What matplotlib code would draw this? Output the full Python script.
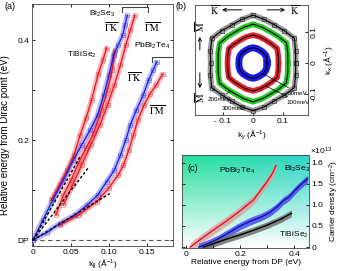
import numpy as np
import matplotlib
matplotlib.use("Agg")
import matplotlib.pyplot as plt

plt.rcParams['font.family'] = ['Liberation Sans', 'DejaVu Sans']
plt.rcParams['mathtext.fontset'] = 'custom'
plt.rcParams['mathtext.rm'] = 'Liberation Sans'
plt.rcParams['mathtext.it'] = 'Liberation Sans:italic'
plt.rcParams['font.size'] = 6

# ---- panel (a): dispersions, k (1/A) vs E (eV)
tl_gk_k = [0.024, 0.035, 0.045, 0.054, 0.062, 0.070, 0.077, 0.086, 0.092, 0.097]
tl_gk_e = [0.08, 0.11, 0.14, 0.17, 0.21, 0.245, 0.28, 0.333, 0.36, 0.385]
tl_gm_k = [0.030, 0.040, 0.050, 0.060, 0.070, 0.080, 0.090, 0.098, 0.104, 0.108]
tl_gm_e = [0.05, 0.09, 0.12, 0.155, 0.185, 0.215, 0.26, 0.30, 0.34, 0.38]
bs_gk_k = [0.0, 0.013, 0.026, 0.040, 0.053, 0.064, 0.075, 0.085, 0.093, 0.100, 0.106, 0.112, 0.118, 0.121, 0.124]
bs_gk_e = [0.0, 0.04, 0.08, 0.12, 0.16, 0.19, 0.22, 0.25, 0.29, 0.33, 0.37, 0.39, 0.41, 0.43, 0.45]
bs_gm_k = [0.040, 0.052, 0.064, 0.076, 0.088, 0.098, 0.107, 0.115, 0.122, 0.128, 0.134]
bs_gm_e = [0.07, 0.11, 0.15, 0.19, 0.23, 0.27, 0.31, 0.35, 0.39, 0.42, 0.45]
pb_gk_k = [0.0, 0.018, 0.035, 0.055, 0.071, 0.085, 0.097, 0.107, 0.115, 0.122, 0.128, 0.136, 0.145, 0.152, 0.158, 0.163]
pb_gk_e = [0.0, 0.015, 0.033, 0.05, 0.07, 0.09, 0.117, 0.14, 0.17, 0.20, 0.23, 0.26, 0.29, 0.32, 0.34, 0.357]
pb_gm_k = [0.035, 0.060, 0.084, 0.100, 0.112, 0.119, 0.126, 0.132, 0.138, 0.146, 0.154, 0.162, 0.171]
pb_gm_e = [0.03, 0.05, 0.077, 0.105, 0.13, 0.15, 0.18, 0.21, 0.24, 0.27, 0.293, 0.31, 0.333]
# linear fits near the Dirac point (end points)
fit_k = [0.062, 0.073, 0.101]
fit_e = [0.167, 0.145, 0.093]

# ---- panel (b): constant energy contours, radius (1/A) every 15 deg
angles = np.arange(0, 360, 15)
r_300 = [0.142, 0.147, 0.159, 0.147, 0.142, 0.145, 0.154, 0.145, 0.141, 0.147, 0.158, 0.147,
         0.141, 0.147, 0.159, 0.146, 0.142, 0.146, 0.154, 0.146, 0.141, 0.147, 0.159, 0.147]
r_200 = [0.116, 0.120, 0.129, 0.120, 0.116, 0.119, 0.125, 0.119, 0.116, 0.120, 0.128, 0.120,
         0.116, 0.120, 0.129, 0.120, 0.116, 0.119, 0.125, 0.119, 0.116, 0.120, 0.128, 0.120]
r_100 = [0.085, 0.087, 0.093, 0.087, 0.085, 0.087, 0.090, 0.087, 0.085, 0.087, 0.093, 0.087,
         0.085, 0.087, 0.093, 0.087, 0.085, 0.087, 0.090, 0.087, 0.085, 0.087, 0.093, 0.087]
r_50 = [0.047, 0.048, 0.049, 0.048, 0.047, 0.048, 0.049, 0.048, 0.047, 0.048, 0.049, 0.048,
        0.047, 0.048, 0.049, 0.048, 0.047, 0.048, 0.049, 0.048, 0.047, 0.048, 0.049, 0.048]

# ---- panel (c): carrier density (1e13 cm^-2) vs energy (eV)
pb_x = [0.015, 0.05, 0.10, 0.15, 0.20, 0.25, 0.28, 0.30, 0.32, 0.333]
pb_n = [0.0, 0.17, 0.40, 0.62, 0.86, 1.12, 1.38, 1.55, 1.75, 1.93]
bs_x = [0.046, 0.08, 0.12, 0.16, 0.20, 0.24, 0.28, 0.31, 0.34, 0.36, 0.38, 0.40, 0.42, 0.45]
bs_n = [0.0, 0.08, 0.20, 0.35, 0.50, 0.62, 0.72, 0.82, 0.97, 1.10, 1.18, 1.32, 1.45, 1.62]
tl_x = [0.064, 0.10, 0.15, 0.20, 0.25, 0.30, 0.35, 0.39]
tl_n = [0.0, 0.08, 0.19, 0.29, 0.40, 0.52, 0.66, 0.80]

RED = '#e8101c'
BLUE = '#1a1ae0'

fig = plt.figure(figsize=(3.41, 2.71), dpi=100)

# ================= (a)
ax = fig.add_axes([0.093, 0.092, 0.414, 0.893])


def branch(k, e, c):
    ax.plot(k, e, color=c, lw=4, alpha=0.3, solid_capstyle='butt', zorder=2)
    ax.errorbar(k, e, xerr=0.003, fmt='s', ms=2.2, mfc='none', mec=c, mew=0.5,
                ecolor=c, elinewidth=0.4, alpha=0.5, zorder=3)
    ax.plot(k, e, color=c, lw=0.9, zorder=4)


branch(tl_gk_k, tl_gk_e, RED)
branch(tl_gm_k, tl_gm_e, RED)
branch(bs_gk_k, bs_gk_e, BLUE)
branch(bs_gm_k, bs_gm_e, RED)
branch(pb_gk_k, pb_gk_e, BLUE)
branch(pb_gm_k, pb_gm_e, RED)
for fk, fe in zip(fit_k, fit_e):
    ax.plot([0, fk], [0, fe], color='k', ls=(0, (2, 1.5)), lw=1.0, zorder=5)
ax.axhline(0, color='#555555', ls=(0, (4, 3)), lw=0.8)

ax.set_xlim(-0.0017, 0.184)
ax.set_ylim(-0.012, 0.472)
ax.set_xticks([0, 0.05, 0.10, 0.15])
ax.set_xticklabels(['0', '0.05', '0.10', '0.15'])
ax.set_yticks([0, 0.1, 0.2, 0.3, 0.4])
ax.set_yticklabels(['DP', '', '0.2', '', '0.4'])
ax.tick_params(direction='in', length=2.5, width=0.6, top=True, right=True, pad=2)
ax.set_xlabel(r'k$_{||}$ (Å$^{-1}$)', labelpad=1)
ax.set_ylabel('Relative energy from Dirac point (eV)', fontsize=7, labelpad=2)
ax.yaxis.set_label_coords(-0.155, 0.46)
for s in ax.spines.values():
    s.set_linewidth(0.6)
    s.set_color('#444444')

ax.text(0.091, 0.452, r'Bi$_2$Se$_3$', ha='center', va='center')
ax.text(0.103, 0.426, r'$\overline{\Gamma\mathrm{K}}$', math_fontfamily='stix', ha='center', va='center', fontsize=7)
ax.text(0.157, 0.426, r'$\overline{\Gamma\mathrm{M}}$', math_fontfamily='stix', ha='center', va='center', fontsize=7)
ax.plot([0.117, 0.117, 0.151, 0.151], [0.456, 0.466, 0.466, 0.456], color='#444444', lw=0.8)
ax.text(0.064, 0.37, r'TlBiSe$_2$', ha='center', va='center')
ax.text(0.157, 0.388, r'PbBi$_2$Te$_4$', ha='center', va='center')
ax.plot([0.157, 0.157, 0.184], [0.356, 0.366, 0.366], color='#444444', lw=0.8, clip_on=False)
ax.text(0.133, 0.326, r'$\overline{\Gamma\mathrm{K}}$', math_fontfamily='stix', ha='center', va='center', fontsize=7)
ax.text(0.163, 0.26, r'$\overline{\Gamma\mathrm{M}}$', math_fontfamily='stix', ha='center', va='center', fontsize=7)
fig.text(0.012, 0.975, '(a)', fontsize=6.5, va='center')

# ================= (b)
bx = fig.add_axes([0.572, 0.575, 0.331, 0.407])
th = np.deg2rad(np.append(angles, angles[0]))


def contour(r, c, lw, marker=False):
    r = np.append(r, r[0])
    x = r * np.cos(th)
    y = r * np.sin(th)
    bx.plot(x, y, color=c, lw=lw, solid_joinstyle='round')
    if marker:
        bx.plot(x, y, 's', ms=2.2, mfc='none', mec='#333333', mew=0.5)
    bx.plot(x, y, color='k', lw=0.8)


contour(r_300, '#9a9a9a', 4, marker=True)
contour(r_200, '#22cc22', 4)
contour(r_100, '#e8202a', 4)
contour(r_50, '#1a1ae6', 5)

bx.set_xlim(-0.193, 0.183)
bx.set_ylim(-0.168, 0.187)
bx.set_xticks([-0.1, 0, 0.1])
bx.set_xticklabels(['- 0.1', '0', '0.1'])
bx.set_yticks([-0.1, 0, 0.1])
bx.set_yticklabels(['-0.1', '0', '0.1'], rotation=90, va='center')
bx.yaxis.tick_right()
bx.yaxis.set_label_position('right')
bx.tick_params(direction='in', length=2.5, width=0.6, pad=2)
bx.set_xlabel(r'k$_y$ (Å$^{-1}$)', labelpad=2)
bx.set_ylabel(r'k$_x$ (Å$^{-1}$)', labelpad=3)
for s in bx.spines.values():
    s.set_linewidth(0.6)
    s.set_color('#444444')

ap = dict(arrowstyle='->', color='k', lw=0.7, shrinkA=0, shrinkB=0)
bx.annotate('', xy=(-0.103, 0.171), xytext=(-0.037, 0.171), arrowprops=ap)
bx.annotate('', xy=(0.107, 0.171), xytext=(0.047, 0.171), arrowprops=ap)
bx.text(-0.127, 0.171, r'$\overline{\mathrm{K}}$', math_fontfamily='stix', ha='center', va='center', fontsize=7)
bx.text(0.14, 0.171, r'$\overline{\mathrm{K}}$', math_fontfamily='stix', ha='center', va='center', fontsize=7)
bx.annotate('', xy=(-0.177, 0.084), xytext=(-0.177, 0.042), arrowprops=ap)
bx.annotate('', xy=(-0.177, -0.081), xytext=(-0.177, -0.032), arrowprops=ap)
bx.text(-0.177, 0.118, r'$\overline{\mathrm{M}}$', math_fontfamily='stix', ha='center', va='center', fontsize=7, rotation=90)
bx.text(-0.177, -0.112, r'$\overline{\mathrm{M}}$', math_fontfamily='stix', ha='center', va='center', fontsize=7, rotation=90)
lp = dict(arrowstyle='-', color='k', lw=0.5, shrinkA=0, shrinkB=0)
bx.annotate('50meV', xy=(0.035, -0.035), xytext=(0.150, -0.097), ha='center', va='center', fontsize=4.5,
            arrowprops=lp)
bx.annotate('100meV', xy=(0.045, -0.075), xytext=(0.150, -0.126), ha='center', va='center', fontsize=4.5,
            arrowprops=lp)
bx.annotate('200meV', xy=(-0.075, -0.09), xytext=(-0.112, -0.117), ha='center', va='center', fontsize=4.5,
            arrowprops=lp)
bx.text(-0.065, -0.146, '300meV', ha='center', va='center', fontsize=4.5)
fig.text(0.515, 0.975, '(b)', fontsize=6.5, va='center')

# ================= (c)
cx = fig.add_axes([0.534, 0.085, 0.372, 0.343])
gy = np.linspace(0, 1, 64)[:, None]
gx = np.linspace(0, 1, 64)[None, :]
top = np.array([0.15, 0.88, 0.60])
top_r = np.array([0.18, 0.84, 0.78])
t = gy ** 1.0
col = top[None, None, :] * (1 - gx[..., None]) + top_r[None, None, :] * gx[..., None]
img = col * t[..., None] + np.ones(3)[None, None, :] * (1 - t[..., None])
cx.imshow(img, extent=[-0.015, 0.455, -0.02, 2.18], origin='lower', aspect='auto', zorder=0)

cx.fill_between(pb_x, np.array(pb_n) - 0.11, np.array(pb_n) + 0.11, color='#d8a0a0', alpha=0.8, lw=0, zorder=1)
cx.plot(pb_x, pb_n, color=RED, lw=1.0, zorder=3)
cx.fill_between(bs_x, np.array(bs_n) - 0.09, np.array(bs_n) + 0.09, color='#4a4af0', alpha=0.85, lw=0, zorder=1)
cx.plot(bs_x, bs_n, color='#1010a0', lw=1.0, zorder=3)
cx.fill_between(tl_x, np.array(tl_n) - 0.08, np.array(tl_n) + 0.08, color='#707070', alpha=0.85, lw=0, zorder=1)
cx.plot(tl_x, tl_n, color='k', lw=1.0, zorder=3)

cx.set_xlim(-0.015, 0.455)
cx.set_ylim(-0.02, 2.18)
cx.set_xticks([0, 0.1, 0.2, 0.3, 0.4])
cx.set_xticklabels(['0', '', '0.2', '', '0.4'])
cx.set_yticks([0, 0.5, 1.0, 1.5, 2.0])
cx.set_yticklabels(['0', '0.5', '1.0', '1.5', '1.6'])
cx.yaxis.tick_right()
cx.yaxis.set_label_position('right')
cx.tick_params(direction='in', length=2.5, width=0.6, pad=2, left=True)
cx.set_xlabel('Relative energy from DP (eV)', labelpad=1)
cx.set_ylabel(r'Carrier density (cm$^{-2}$)', labelpad=3)
for s in cx.spines.values():
    s.set_linewidth(0.6)
    s.set_color('#444444')
cx.text(0.026, 1.86, '(c)', ha='center', va='center', fontsize=6.5)
cx.text(0.188, 1.81, r'PbBi$_2$Te$_4$', ha='center', va='center')
cx.text(0.41, 1.86, r'Bi$_2$Se$_3$', ha='center', va='center')
cx.text(0.40, 0.28, r'TlBiSe$_2$', ha='center', va='center')
fig.text(0.91, 0.44, r'×10$^{13}$', fontsize=6, va='center')

fig.savefig('out.png', dpi=100)
